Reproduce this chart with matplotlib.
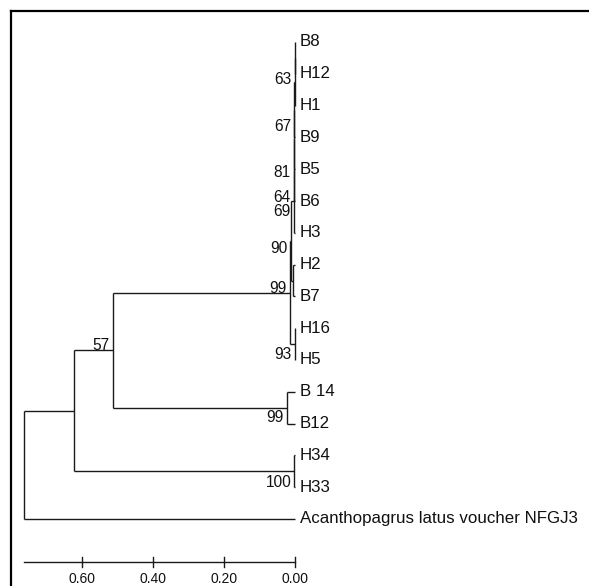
import matplotlib
matplotlib.use("Agg")
import matplotlib.pyplot as plt
from matplotlib.lines import Line2D

plt.rcParams['font.family'] = ['Liberation Sans', 'DejaVu Sans']

# tips, top to bottom
tips = ["B8", "H12", "H1", "B9", "B5", "B6", "H3", "H2", "B7", "H16", "H5",
        "B 14", "B12", "H34", "H33", "Acanthopagrus latus voucher NFGJ3"]

# internal nodes: children, depth (distance from tips), bootstrap
node_names = ["A", "B", "C", "D", "E", "F", "G", "H", "I", "J", "K", "L", "M", "N", "root"]
node_children = [("B8", "H12"), ("A", "H1"), ("B", "B9"), ("C", "B5"), ("D", "B6"),
                 ("E", "H3"), ("H2", "B7"), ("F", "G"), ("H16", "H5"), ("H", "I"),
                 ("B 14", "B12"), ("J", "K"), ("H34", "H33"), ("L", "M"),
                 ("N", "Acanthopagrus latus voucher NFGJ3")]
node_depth = [0.0005, 0.001, 0.0015, 0.003, 0.0035, 0.004, 0.006, 0.011, 0.001,
              0.014, 0.0225, 0.513, 0.0015, 0.623, 0.763]
node_support = [63, None, 67, 81, 64, 69, None, 90, 93, 99, 99, 57, 100, None, None]

scale_ticks = [0.60, 0.40, 0.20, 0.00]

# label vertical nudges (tip units)
label_dy = {"A": 0.69, "C": 0.54, "D": 1.04, "E": 0.87, "F": 0.32, "H": 0.24,
            "I": 0.34, "J": -0.13, "K": 0.31, "L": -0.16, "M": 0.34}

fig = plt.figure(figsize=(5.89, 5.86), dpi=100)
ax = fig.add_axes([0, 0, 1, 1])
ax.set_xlim(-295 / 355.2, 294 / 355.2)
ax.set_ylim((586 - 42) / 31.8, -42 / 31.8)
ax.axis("off")

lc = "#1a1a1a"
lw = 1.0

pos = {}
for i, t in enumerate(tips):
    pos[t] = (0.0, float(i))
for name, ch, d in zip(node_names, node_children, node_depth):
    y = (pos[ch[0]][1] + pos[ch[1]][1]) / 2
    pos[name] = (-d, y)

for name, ch, sup in zip(node_names, node_children, node_support):
    nx, ny = pos[name]
    ys = [pos[c][1] for c in ch]
    ax.plot([nx, nx], [min(ys), max(ys)], color=lc, lw=lw, solid_capstyle="butt")
    for c in ch:
        cx, cy = pos[c]
        ax.plot([nx, cx], [cy, cy], color=lc, lw=lw, solid_capstyle="butt")
    if sup is not None:
        ax.text(nx - 0.009, ny + label_dy.get(name, 0.3), str(sup),
                ha="right", va="center", fontsize=11.2, color="#111111")

for i, t in enumerate(tips):
    ax.text(0.014, i, t, ha="left", va="center", fontsize=12.2, color="#111111")

# scale bar
sy = (562 - 42) / 31.8
root_x = pos["root"][0]
ax.plot([root_x, 0], [sy, sy], color=lc, lw=lw)
for tv in scale_ticks:
    ax.plot([-tv, -tv], [sy - 0.16, sy + 0.16], color=lc, lw=lw)
    ax.text(-tv, sy + 0.52, "%.2f" % tv, ha="center", va="center", fontsize=10, color="#111111")

# frame (top and left)
fx = 10.5 / 589
fy = 1 - 10.5 / 586
fig.add_artist(Line2D([fx, 1], [fy, fy], color="black", lw=1.6, transform=fig.transFigure))
fig.add_artist(Line2D([fx, fx], [0, fy], color="black", lw=1.6, transform=fig.transFigure))

fig.savefig("out.png", dpi=100)
